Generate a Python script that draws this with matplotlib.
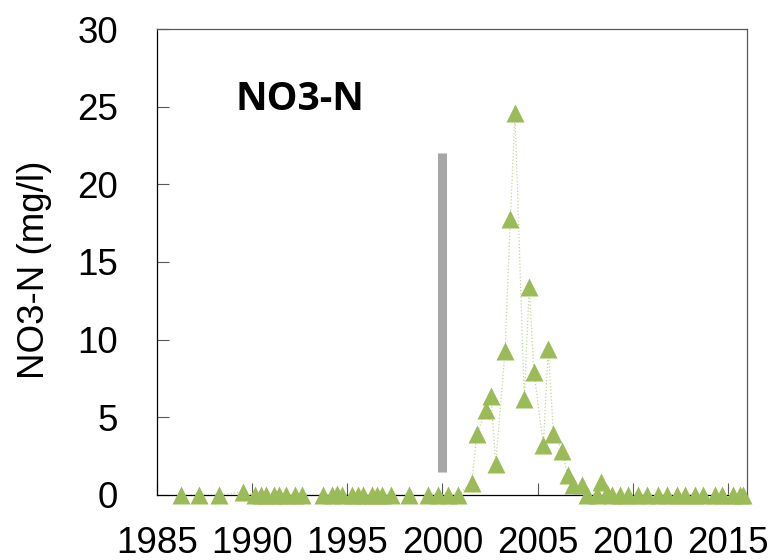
import matplotlib
matplotlib.use('Agg')
import matplotlib.pyplot as plt

# 측정 연도 (소수 연도) 와 NO3-N 농도 (mg/l)
years = [1986.25, 1987.22, 1988.26, 1989.50, 1990.15, 1990.47, 1990.73, 1991.15,
         1991.41, 1991.78, 1992.25, 1992.62, 1993.72, 1994.20, 1994.46, 1994.72,
         1995.25, 1995.56, 1995.83, 1996.30, 1996.56, 1996.82, 1997.30, 1998.24,
         1999.24, 1999.77, 2000.29, 2000.82, 2001.55, 2001.80, 2002.29, 2002.55,
         2002.80, 2003.29, 2003.57, 2003.81, 2004.30, 2004.56, 2004.81, 2005.30,
         2005.56, 2005.83, 2006.30, 2006.57, 2006.84, 2007.32, 2007.58, 2008.11,
         2008.31, 2008.63, 2008.89, 2009.33, 2009.75, 2010.28, 2010.73, 2011.33,
         2011.80, 2012.33, 2012.75, 2013.27, 2013.70, 2014.33, 2014.70, 2015.28,
         2015.65, 2015.81]
no3n = [0.0, 0.0, 0.0, 0.2, 0.0, 0.0, 0.0, 0.0,
        0.0, 0.0, 0.0, 0.0, 0.0, 0.0, 0.05, 0.0,
        0.0, 0.0, 0.0, 0.0, 0.0, 0.0, 0.0, 0.0,
        0.0, 0.0, 0.0, 0.0, 0.8, 3.9, 5.5, 6.4,
        2.0, 9.3, 17.8, 24.6, 6.2, 13.4, 7.9, 3.2,
        9.4, 3.95, 2.85, 1.3, 0.65, 0.65, 0.0, 0.0,
        0.85, 0.1, 0.0, 0.0, 0.0, 0.0, 0.0, 0.0,
        0.0, 0.0, 0.0, 0.0, 0.0, 0.0, 0.0, 0.0,
        0.0, 0.0]

# 회색 기준선 (2000년)
bar_year = 2000
bar_low, bar_high = 1.5, 22

xticks = [1985, 1990, 1995, 2000, 2005, 2010, 2015]
yticks = [0, 5, 10, 15, 20, 25, 30]

plt.rcParams['font.family'] = ['Liberation Sans', 'DejaVu Sans']

fig = plt.figure(figsize=(7.76, 5.6), dpi=100)
ax = fig.add_axes([0.2023, 0.1161, 0.7603, 0.8321])

ax.plot([bar_year, bar_year], [bar_low, bar_high], color='#A6A6A6', lw=6.5,
        solid_capstyle='butt', zorder=2)
ax.plot(years, no3n, color='#C3D69B', lw=0.9, ls=':', zorder=3)
ax.plot(years, no3n, ls='none', marker='^', ms=13, mfc='#9BBB59', mec='none',
        zorder=4, clip_on=False)

ax.set_xlim(1985, 2016)
ax.set_ylim(0, 30)
ax.set_xticks(xticks)
ax.set_yticks(yticks)
ax.tick_params(axis='both', direction='in', length=8.5, width=0.8,
               color='#595959', labelsize=26.5)
ax.tick_params(axis='x', pad=22)
ax.tick_params(axis='y', pad=28)

for side in ['left', 'bottom']:
    ax.spines[side].set_color('black')
for side in ['top', 'right']:
    ax.spines[side].set_color('#595959')
for s in ax.spines.values():
    s.set_linewidth(0.9)

ax.set_ylabel('NO3-N (mg/l)', fontsize=26.5)
ax.yaxis.set_label_coords(-0.178, 0.483)

ax.text(0.2424, 0.826, 'NO3-N', transform=ax.transAxes, ha='center',
        va='baseline', fontsize=28, fontweight='bold', family=['Open Sans', 'DejaVu Sans'])

plt.savefig('out.png', dpi=100)
